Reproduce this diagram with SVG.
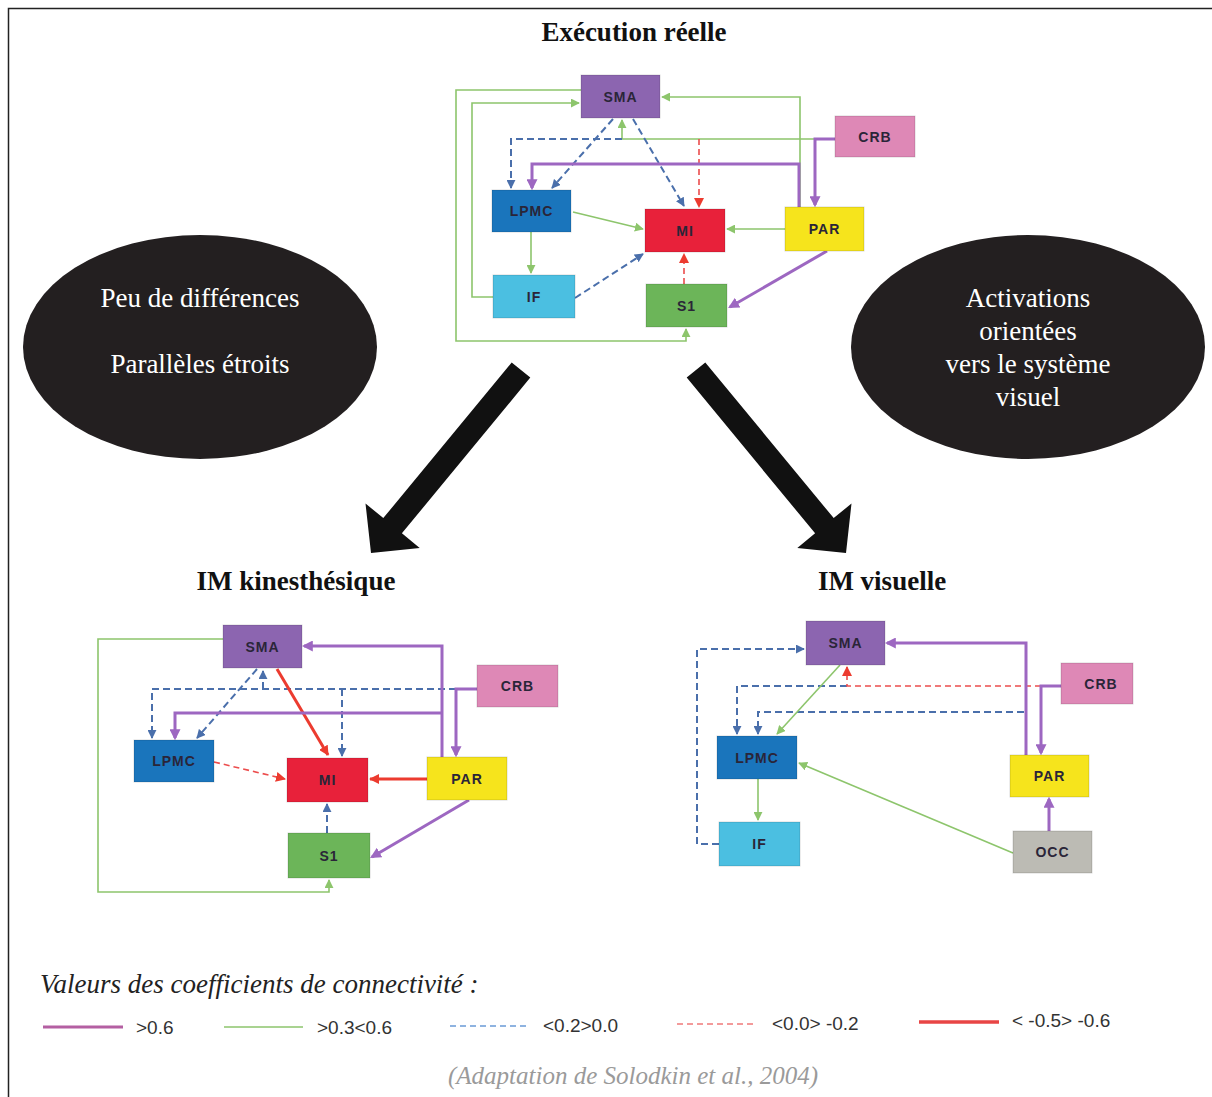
<svg xmlns="http://www.w3.org/2000/svg" width="1212" height="1097" viewBox="0 0 1212 1097">
<defs>
<style>
.frame{fill:none;stroke:#222;stroke-width:1.5}
.title{font-family:"Liberation Serif",serif;font-weight:bold;font-size:27px;fill:#111;text-anchor:middle}
.ell{fill:#231f20}
.etext{font-family:"Liberation Serif",serif;font-size:27px;fill:#fff;text-anchor:middle}
.box{stroke:#000;stroke-opacity:0.15;stroke-width:1}
.lbl{font-family:"Liberation Sans",Arial,sans-serif;font-weight:bold;font-size:14px;letter-spacing:1px;fill:#2a2538;text-anchor:middle;dominant-baseline:central}
.g{fill:none;stroke:#8dc56c;stroke-width:1.6}
.p{fill:none;stroke:#9d67c1;stroke-width:3}
.b{fill:none;stroke:#4a6fab;stroke-width:2;stroke-dasharray:7 4}
.rd{fill:none;stroke:#ec4d4d;stroke-width:1.6;stroke-dasharray:6 4}
.rs{fill:none;stroke:#ec3b2f;stroke-width:3}
.ga{marker-end:url(#mg)}
.pa{marker-end:url(#mp)}
.ba{marker-end:url(#mb)}
.ra{marker-end:url(#mr)}
.leg{font-family:"Liberation Sans",Arial,sans-serif;font-size:19px;fill:#333}
.legt{font-family:"Liberation Serif",serif;font-style:italic;font-size:27px;fill:#222}
.cite{font-family:"Liberation Serif",serif;font-style:italic;font-size:25px;fill:#9a9a9a;text-anchor:middle}
</style>
<marker id="mg" viewBox="0 0 10 10" refX="9" refY="5" markerUnits="userSpaceOnUse" markerWidth="9" markerHeight="9" orient="auto"><path d="M0,0 L10,5 L0,10 z" fill="#8dc56c"/></marker>
<marker id="mp" viewBox="0 0 10 10" refX="8" refY="5" markerUnits="userSpaceOnUse" markerWidth="11" markerHeight="11" orient="auto"><path d="M0,0 L10,5 L0,10 z" fill="#9d67c1"/></marker>
<marker id="mb" viewBox="0 0 10 10" refX="9" refY="5" markerUnits="userSpaceOnUse" markerWidth="9" markerHeight="9" orient="auto"><path d="M0,0 L10,5 L0,10 z" fill="#4a6fab"/></marker>
<marker id="mr" viewBox="0 0 10 10" refX="9" refY="5" markerUnits="userSpaceOnUse" markerWidth="10" markerHeight="10" orient="auto"><path d="M0,0 L10,5 L0,10 z" fill="#ec3b2f"/></marker>
</defs>
<rect width="1212" height="1097" fill="#fff"/>
<path class="frame" d="M8.5,1097 V8.5 H1212"/>

<text class="title" x="634" y="41">Exécution réelle</text>
<text class="title" x="296" y="590">IM kinesthésique</text>
<text class="title" x="882" y="590">IM visuelle</text>

<g id="ellipse-left">
<ellipse class="ell" cx="200" cy="347" rx="177" ry="112"/>
<text class="etext" x="200" y="307">Peu de différences</text>
<text class="etext" x="200" y="373">Parallèles étroits</text>
</g>
<g id="ellipse-right">
<ellipse class="ell" cx="1028" cy="347" rx="177" ry="112"/>
<text class="etext" x="1028" y="307">Activations</text>
<text class="etext" x="1028" y="340">orientées</text>
<text class="etext" x="1028" y="373">vers le système</text>
<text class="etext" x="1028" y="406">visuel</text>
</g>

<g id="big-arrows" fill="#111">
<polygon points="511.7,362.4 530.3,377.6 401.9,533.3 419.7,547.9 371,553 365.5,503.5 383.3,518.1"/>
<polygon points="705.3,362.4 686.7,377.6 815.1,533.3 797.3,547.9 846,553 851.5,503.5 833.7,518.1"/>
</g>

<g id="connectors">
<!-- top diagram -->
<path class="g ga" d="M581,90 H456 V341 H686 V329"/>
<path class="g ga" d="M493,297 H472 V103 H579"/>
<path class="g ga" d="M800,207 V97 H662"/>
<path class="g ga" d="M835,139 H622 V120"/>
<path class="g ga" d="M573,212 L643,229"/>
<path class="g ga" d="M531,232 V273"/>
<path class="g ga" d="M785,229 H727"/>
<path class="b ba" d="M622,139 H511 V188"/>
<path class="b ba" d="M613,119 L552,188"/>
<path class="b ba" d="M633,119 L684,206"/>
<path class="b ba" d="M575,298 L643,254"/>
<path class="rd ra" d="M699,139 V207"/>
<path class="rd ra" d="M684,284 V254"/>
<path class="p pa" d="M799,207 V164 H532 V188"/>
<path class="p pa" d="M835,139 H815 V205"/>
<path class="p pa" d="M827,251 L730,307"/>

<!-- IM kinesthesique -->
<path class="g ga" d="M223,639 H98 V892 H329 V880"/>
<path class="b ba" d="M456,689 H152 V738"/>
<path class="b ba" d="M263,689 V671"/>
<path class="b ba" d="M342,689 V756"/>
<path class="b ba" d="M257,669 L197,738"/>
<path class="b ba" d="M327,833 V804"/>
<path class="rd ra" d="M214,762 L285,779"/>
<path class="rs ra" d="M277,669 L328,755"/>
<path class="rs ra" d="M427,779 H370"/>
<path class="p pa" d="M442,757 V646 H304"/>
<path class="p pa" d="M442,713 H175 V738"/>
<path class="p pa" d="M477,689 H456 V755"/>
<path class="p pa" d="M469,800 L372,857"/>

<!-- IM visuelle -->
<path class="b ba" d="M719,844 H697 V649 H804"/>
<path class="b ba" d="M847,686 H737 V734"/>
<path class="b ba" d="M1024,712 H758 V734"/>
<path class="rd ra" d="M1041,686 H847 V667"/>
<path class="g ga" d="M840,665 L777,734"/>
<path class="g ga" d="M758,779 V820"/>
<path class="g ga" d="M1013,853 L799,763"/>
<path class="p pa" d="M1026,755 V643 H887"/>
<path class="p pa" d="M1061,686 H1041 V753"/>
<path class="p pa" d="M1049,831 V799"/>
</g>

<!-- top nodes -->
<g id="top-SMA"><rect class="box" x="581" y="75" width="79" height="43" fill="#8c65b0"/><text class="lbl" x="620.5" y="96.5">SMA</text></g>
<g id="top-CRB"><rect class="box" x="835" y="116" width="80" height="41" fill="#de88b6"/><text class="lbl" x="875" y="136.5">CRB</text></g>
<g id="top-LPMC"><rect class="box" x="492" y="190" width="79" height="42" fill="#1a75bc"/><text class="lbl" x="531.5" y="211">LPMC</text></g>
<g id="top-MI"><rect class="box" x="645" y="209" width="80" height="43" fill="#e8213a"/><text class="lbl" x="685" y="230.5">MI</text></g>
<g id="top-PAR"><rect class="box" x="785" y="207" width="79" height="44" fill="#f6e41c"/><text class="lbl" x="824.5" y="229">PAR</text></g>
<g id="top-IF"><rect class="box" x="493" y="275" width="82" height="43" fill="#4bbfe1"/><text class="lbl" x="534" y="296.5">IF</text></g>
<g id="top-S1"><rect class="box" x="646" y="284" width="81" height="43" fill="#6cb559"/><text class="lbl" x="686.5" y="305.5">S1</text></g>

<!-- kinesthesique nodes -->
<g id="kin-SMA"><rect class="box" x="223" y="625" width="79" height="43" fill="#8c65b0"/><text class="lbl" x="262.5" y="646.5">SMA</text></g>
<g id="kin-CRB"><rect class="box" x="477" y="665" width="81" height="42" fill="#de88b6"/><text class="lbl" x="517.5" y="686">CRB</text></g>
<g id="kin-LPMC"><rect class="box" x="134" y="740" width="80" height="42" fill="#1a75bc"/><text class="lbl" x="174" y="761">LPMC</text></g>
<g id="kin-MI"><rect class="box" x="287" y="758" width="81" height="44" fill="#e8213a"/><text class="lbl" x="327.5" y="780">MI</text></g>
<g id="kin-PAR"><rect class="box" x="427" y="757" width="80" height="43" fill="#f6e41c"/><text class="lbl" x="467" y="778.5">PAR</text></g>
<g id="kin-S1"><rect class="box" x="288" y="833" width="82" height="45" fill="#6cb559"/><text class="lbl" x="329" y="855.5">S1</text></g>

<!-- visuelle nodes -->
<g id="vis-SMA"><rect class="box" x="806" y="621" width="79" height="44" fill="#8c65b0"/><text class="lbl" x="845.5" y="643">SMA</text></g>
<g id="vis-CRB"><rect class="box" x="1061" y="663" width="72" height="41" fill="#de88b6"/><text class="lbl" x="1101" y="683.5">CRB</text></g>
<g id="vis-LPMC"><rect class="box" x="717" y="736" width="80" height="43" fill="#1a75bc"/><text class="lbl" x="757" y="757.5">LPMC</text></g>
<g id="vis-PAR"><rect class="box" x="1010" y="755" width="79" height="42" fill="#f6e41c"/><text class="lbl" x="1049.5" y="776">PAR</text></g>
<g id="vis-IF"><rect class="box" x="719" y="822" width="81" height="44" fill="#4bbfe1"/><text class="lbl" x="759.5" y="844">IF</text></g>
<g id="vis-OCC"><rect class="box" x="1013" y="831" width="79" height="42" fill="#bcbbb4"/><text class="lbl" x="1052.5" y="852">OCC</text></g>

<!-- legend -->
<g id="legend">
<text class="legt" x="40" y="993">Valeurs des coefficients de connectivité :</text>
<line x1="43" y1="1027" x2="123" y2="1027" stroke="#b45fa2" stroke-width="3"/>
<text class="leg" x="136" y="1034">&gt;0.6</text>
<line x1="224" y1="1027" x2="303" y2="1027" stroke="#8dc56c" stroke-width="1.6"/>
<text class="leg" x="317" y="1034">&gt;0.3&lt;0.6</text>
<line x1="450" y1="1026" x2="528" y2="1026" stroke="#6a9ad6" stroke-width="1.6" stroke-dasharray="6 4"/>
<text class="leg" x="543" y="1032">&lt;0.2&gt;0.0</text>
<line x1="677" y1="1024" x2="756" y2="1024" stroke="#ef7a7a" stroke-width="1.6" stroke-dasharray="6 4"/>
<text class="leg" x="772" y="1030">&lt;0.0&gt; -0.2</text>
<line x1="919" y1="1022" x2="999" y2="1022" stroke="#e84545" stroke-width="3.5"/>
<text class="leg" x="1012" y="1027">&lt; -0.5&gt; -0.6</text>
</g>
<text class="cite" x="633" y="1084">(Adaptation de Solodkin et al., 2004)</text>
</svg>
